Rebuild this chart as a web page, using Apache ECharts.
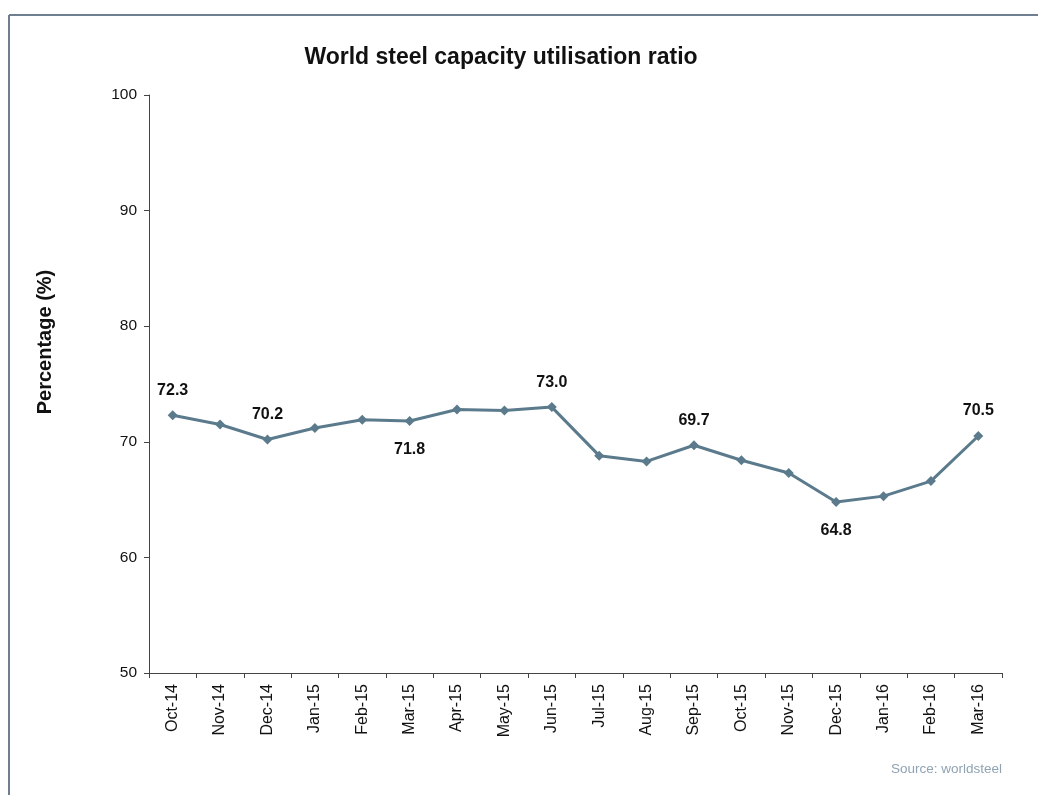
<!DOCTYPE html>
<html>
<head>
<meta charset="utf-8">
<script src="https://cdn.jsdelivr.net/npm/echarts@6/dist/echarts.min.js"></script>
<style>
html,body{margin:0;padding:0;background:#fff;}
#chart{width:1038px;height:795px;}
</style>
</head>
<body>
<div id="chart"></div>
<script>
const categories = ['Oct-14','Nov-14','Dec-14','Jan-15','Feb-15','Mar-15','Apr-15','May-15','Jun-15','Jul-15','Aug-15','Sep-15','Oct-15','Nov-15','Dec-15','Jan-16','Feb-16','Mar-16'];
const values = [72.3,71.5,70.2,71.2,71.9,71.8,72.8,72.7,73.0,68.8,68.3,69.7,68.4,67.3,64.8,65.3,66.6,70.5];
const labelPositions = ['top',null,'top',null,null,'bottom',null,null,'top',null,null,'top',null,null,'bottom',null,null,'top'];

const chart = echarts.init(document.getElementById('chart'));
const seriesData = values.map((v, i) => {
  const p = labelPositions[i];
  return {
    value: v,
    label: p ? { show: true, position: p, distance: p === 'top' ? 12 : 16, formatter: (d) => d.value.toFixed(1) } : { show: false }
  };
});

chart.setOption({
  backgroundColor: '#fff',
  animation: false,
  title: {
    text: 'World steel capacity utilisation ratio',
    left: 496, top: 41, textAlign: 'center',
    textStyle: { fontFamily: 'Liberation Sans', fontSize: 23, fontWeight: 'bold', color: '#111' }
  },
  graphic: [
    { type: 'line', shape: { x1: 9, y1: 15, x2: 1038, y2: 15 }, style: { stroke: '#6f7f90', lineWidth: 2 } },
    { type: 'line', shape: { x1: 9, y1: 15, x2: 9, y2: 795 }, style: { stroke: '#6f7f90', lineWidth: 2 } },
    { type: 'text', right: 36, top: 762, style: { text: 'Source: worldsteel', fill: '#8fa3b3', font: '13.5px "Liberation Sans"' } },
    { type: 'text', x: 45, y: 342, rotation: Math.PI / 2,
      style: { text: 'Percentage (%)', fill: '#111', font: 'bold 20px "Liberation Sans"', align: 'center', verticalAlign: 'middle' } }
  ],
  grid: { left: 149, right: 36, top: 95, bottom: 122 },
  xAxis: {
    type: 'category', data: categories, boundaryGap: true,
    axisLine: { lineStyle: { color: '#444', width: 1 } },
    axisTick: { show: true, alignWithLabel: false, length: 5, lineStyle: { color: '#444' } },
    axisLabel: { rotate: 90, fontFamily: 'Liberation Sans', fontSize: 16, color: '#111', margin: 11 },
    splitLine: { show: false }
  },
  yAxis: {
    type: 'value', min: 50, max: 100, interval: 10,
    axisLine: { show: true, lineStyle: { color: '#444', width: 1 } },
    axisTick: { show: true, length: 5, lineStyle: { color: '#444' } },
    axisLabel: { fontFamily: 'Liberation Sans', fontSize: 15.5, color: '#111', margin: 12 },
    splitLine: { show: false }
  },
  series: [{
    type: 'line', data: seriesData,
    symbol: 'diamond', symbolSize: 10,
    lineStyle: { color: '#5b7b8d', width: 3 },
    itemStyle: { color: '#5b7b8d' },
    label: { fontFamily: 'Liberation Sans', fontSize: 16, fontWeight: 'bold', color: '#111' }
  }]
});
</script>
</body>
</html>
